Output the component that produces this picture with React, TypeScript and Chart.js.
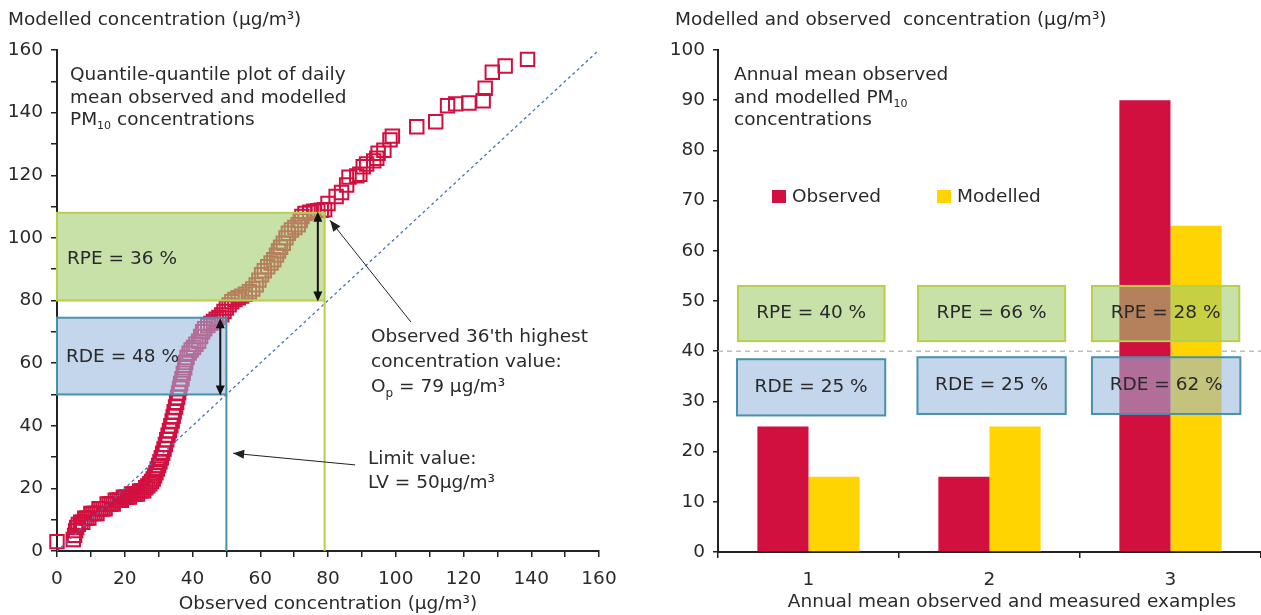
import React, { useEffect, useRef } from 'react';
import { Chart, registerables } from 'chart.js';

Chart.register(...registerables);

const FONT = '"DejaVu Sans", Verdana, sans-serif';
const FS = 18.5;
const TEXT = '#2a2a2a';
const AXIS = '#222222';
const RED = 'rgb(210,16,64)';
const YELLOW = 'rgb(255,212,0)';

// ---- Left chart: quantile-quantile data (observed vs modelled, µg/m³) ----
const observedQuantiles = [
  0, 4.8, 5.2, 5.5, 5.8, 6.3, 7, 7.6, 8.2, 8.8,
  9.4, 10, 10.6, 11.2, 11.8, 12.4, 13, 13.6, 14.2, 14.8,
  15.4, 16, 16.6, 17.2, 17.8, 18.4, 19, 19.6, 20.2, 20.8,
  21.4, 22, 22.6, 23.2, 23.8, 24.4, 25, 25.6, 26.2, 26.8,
  27.4, 27.9, 28.4, 28.8, 29.2, 29.6, 30, 30.4, 30.8, 31.2,
  31.6, 32, 32.4, 32.8, 33.2, 33.6, 34, 34.3, 34.6, 35,
  35.3, 35.6, 35.9, 36.2, 36.5, 36.9, 37.3, 37.7, 38, 38.4,
  39, 39.6, 40.3, 41, 41.8, 42.4, 43, 43.6, 44.5, 45.4,
  46.2, 47, 47.8, 48.6, 49.3, 50, 50.8, 51.6, 52.5, 53.5,
  54.5, 55.6, 56.8, 57.8, 58.8, 59.6, 60.4, 61.2, 62.2, 63.2,
  64, 64.8, 65.4, 66, 66.8, 67.6, 68.3, 69.2, 70.2, 71.2,
  71.8, 72.3, 73.2, 74.6, 75.8, 77, 78, 79, 80, 82.4,
  84, 85.5, 86.2, 88.5, 89.4, 90.4, 91.4, 93.5, 94.4, 94.8,
  96.5, 98.3, 99, 106.2, 111.8, 115.3, 117.7, 121.6, 125.8, 126.4,
  128.5, 132.3, 138.9,
];
const modelledQuantiles = [
  3, 3.7, 5, 6.5, 7.5, 8.5, 9.2, 9.2, 10.5, 10.5,
  10.5, 12, 12, 12, 12, 13.5, 13.5, 13.5, 13.5, 15,
  15, 15, 15, 16.2, 16.2, 16.2, 16.2, 17.2, 17.2, 17.2,
  17.2, 18.2, 18.2, 18.2, 18.2, 19.2, 19.2, 19.2, 20.2, 20.8,
  21.5, 22.2, 23, 24, 25, 26.2, 27.3, 28.5, 29.8, 31.2,
  32.6, 34, 35.5, 37, 38.5, 40, 41.5, 43, 44.5, 46,
  47.5, 49, 50.5, 52, 53.5, 55, 56.8, 58.5, 60.2, 61.8,
  63.2, 64.2, 65, 66, 67, 68.5, 70, 71, 72, 72.7,
  73.3, 74, 74.6, 75.4, 76.5, 77.6, 78.6, 79.6, 80.3, 80.9,
  81.4, 82, 82.8, 83.7, 85, 86.5, 88.2, 89.5, 90.8, 92,
  93, 94.5, 95.8, 97, 98.3, 100, 101.5, 102.5, 103.3, 104.2,
  105.5, 106.8, 107.8, 108.2, 108.5, 108.7, 108.8, 109, 111, 113.2,
  114.5, 116.9, 119.4, 119.8, 120.3, 122.7, 123.6, 124.6, 125.4, 127,
  128, 131.3, 132.5, 135.5, 137.1, 142.2, 142.8, 143.1, 143.8, 147.8,
  152.9, 154.9, 157,
];
const qqAxisTicks = [0, 20, 40, 60, 80, 100, 120, 140, 160];
const limitValue = 50; // LV
const modelledAtLimit = 74.5;
const observedP = 79; // O_p
const modelledAtPLow = 80;
const modelledAtP = 108;

// ---- Right chart: annual means ----
const exampleLabels = ['1', '2', '3'];
const observedMeans = [25, 15, 90];
const modelledMeans = [15, 25, 65];
const rpeLabels = ['RPE = 40 %', 'RPE = 66 %', 'RPE = 28 %'];
const rdeLabels = ['RDE = 25 %', 'RDE = 25 %', 'RDE = 62 %'];
const annualLimit = 40;

type Seg = { t: string; size?: number; dy?: number };

function drawSegs(ctx: CanvasRenderingContext2D, x: number, y: number, segs: Seg[], align: 'left' | 'center' = 'left') {
  ctx.save();
  ctx.fillStyle = TEXT;
  ctx.textBaseline = 'middle';
  ctx.textAlign = 'left';
  let total = 0;
  for (const s of segs) {
    ctx.font = `${s.size ?? FS}px ${FONT}`;
    total += ctx.measureText(s.t).width;
  }
  let cx = align === 'center' ? x - total / 2 : x;
  for (const s of segs) {
    ctx.font = `${s.size ?? FS}px ${FONT}`;
    ctx.fillText(s.t, cx, y + (s.dy ?? 0));
    cx += ctx.measureText(s.t).width;
  }
  ctx.restore();
}

function arrowHead(ctx: CanvasRenderingContext2D, fx: number, fy: number, tx: number, ty: number, len = 9, half = 4) {
  const a = Math.atan2(ty - fy, tx - fx);
  ctx.beginPath();
  ctx.moveTo(tx, ty);
  ctx.lineTo(tx - len * Math.cos(a) + half * Math.sin(a), ty - len * Math.sin(a) - half * Math.cos(a));
  ctx.lineTo(tx - len * Math.cos(a) - half * Math.sin(a), ty - len * Math.sin(a) + half * Math.cos(a));
  ctx.closePath();
  ctx.fill();
}

const GREEN_FILL = 'rgba(162,205,112,0.6)';
const GREEN_LINE = 'rgb(182,208,76)';
const BLUE_FILL = 'rgba(152,183,222,0.57)';
const BLUE_LINE = 'rgb(72,145,170)';

const qqPlugin = {
  id: 'qqAnnotations',
  afterDatasetsDraw(chart: any) {
    const { ctx } = chart;
    const xs = chart.scales.x;
    const ys = chart.scales.y;
    const px = (v: number) => xs.getPixelForValue(v);
    const py = (v: number) => ys.getPixelForValue(v);
    ctx.save();
    // 1:1 line
    ctx.strokeStyle = 'rgb(70,112,192)';
    ctx.lineWidth = 1.3;
    ctx.setLineDash([3, 3]);
    ctx.beginPath();
    ctx.moveTo(px(0), py(0));
    ctx.lineTo(px(160), py(160));
    ctx.stroke();
    ctx.setLineDash([]);

    // RPE box
    ctx.fillStyle = GREEN_FILL;
    ctx.strokeStyle = GREEN_LINE;
    ctx.lineWidth = 2;
    ctx.fillRect(px(0), py(modelledAtP), px(observedP) - px(0), py(modelledAtPLow) - py(modelledAtP));
    ctx.strokeRect(px(0), py(modelledAtP), px(observedP) - px(0), py(modelledAtPLow) - py(modelledAtP));
    ctx.beginPath();
    ctx.moveTo(px(observedP), py(modelledAtPLow));
    ctx.lineTo(px(observedP), py(0));
    ctx.stroke();

    // RDE box
    ctx.fillStyle = BLUE_FILL;
    ctx.strokeStyle = BLUE_LINE;
    ctx.fillRect(px(0), py(modelledAtLimit), px(limitValue) - px(0), py(limitValue) - py(modelledAtLimit));
    ctx.strokeRect(px(0), py(modelledAtLimit), px(limitValue) - px(0), py(limitValue) - py(modelledAtLimit));
    ctx.beginPath();
    ctx.moveTo(px(limitValue), py(limitValue));
    ctx.lineTo(px(limitValue), py(0));
    ctx.stroke();

    // double arrows
    ctx.strokeStyle = '#111';
    ctx.fillStyle = '#111';
    ctx.lineWidth = 2;
    const dbl = (xv: number, y0: number, y1: number) => {
      const X = px(xv);
      const A = py(y0) - 1;
      const B = py(y1) + 1;
      ctx.beginPath();
      ctx.moveTo(X, A + 6);
      ctx.lineTo(X, B - 6);
      ctx.stroke();
      arrowHead(ctx, X, B, X, A, 10, 4.5);
      arrowHead(ctx, X, A, X, B, 10, 4.5);
    };
    dbl(77, modelledAtP, modelledAtPLow);
    dbl(48.2, modelledAtLimit - 0.5, limitValue);

    // pointer lines
    ctx.lineWidth = 1;
    ctx.strokeStyle = '#222';
    ctx.fillStyle = '#222';
    const pointer = (x0: number, y0: number, x1: number, y1: number) => {
      ctx.beginPath();
      ctx.moveTo(px(x0), py(y0));
      ctx.lineTo(px(x1), py(y1));
      ctx.stroke();
      arrowHead(ctx, px(x0), py(y0), px(x1), py(y1), 11, 4.5);
    };
    pointer(104.5, 73.1, 80.6, 105.6);
    pointer(88, 27.5, 52, 31.2);
    ctx.restore();

    drawSegs(ctx, 67, 259, [{ t: 'RPE = 36 %' }]);
    drawSegs(ctx, 66, 357, [{ t: 'RDE = 48 %' }]);
    drawSegs(ctx, 371, 337, [{ t: "Observed 36'th highest" }]);
    drawSegs(ctx, 371, 362, [{ t: 'concentration value:' }]);
    drawSegs(ctx, 371, 387, [{ t: 'O' }, { t: 'p', size: 12, dy: 7 }, { t: ' = 79 µg/m³' }]);
    drawSegs(ctx, 368, 459, [{ t: 'Limit value:' }]);
    drawSegs(ctx, 368, 483, [{ t: 'LV = 50µg/m³' }]);
  },
  afterDraw(chart: any) {
    const { ctx } = chart;
    drawSegs(ctx, 8, 20, [{ t: 'Modelled concentration (µg/m³)' }]);
    drawSegs(ctx, 70, 75, [{ t: 'Quantile-quantile plot of daily' }]);
    drawSegs(ctx, 70, 98, [{ t: 'mean observed and modelled' }]);
    drawSegs(ctx, 70, 120, [{ t: 'PM' }, { t: '10', size: 11, dy: 6 }, { t: ' concentrations' }]);
  },
};

const barPlugin = {
  id: 'barAnnotations',
  beforeDatasetsDraw(chart: any) {
    const { ctx, chartArea } = chart;
    const y = chart.scales.y.getPixelForValue(annualLimit);
    ctx.save();
    ctx.strokeStyle = 'rgb(190,190,190)';
    ctx.lineWidth = 1.5;
    ctx.setLineDash([5, 4]);
    ctx.beginPath();
    ctx.moveTo(chartArea.left, y);
    ctx.lineTo(chartArea.right, y);
    ctx.stroke();
    ctx.restore();
  },
  afterDatasetsDraw(chart: any) {
    const { ctx } = chart;
    const xs = chart.scales.x;
    const ys = chart.scales.y;
    const px = (v: number) => xs.getPixelForValue(v);
    const py = (v: number) => ys.getPixelForValue(v);
    const rpeSpan = [[-0.39, 0.42], [0.605, 1.418], [1.566, 2.38]];
    const rdeSpan = [[-0.395, 0.424], [0.602, 1.421], [1.566, 2.386]];
    const rdeY = [[27.2, 38.4], [27.5, 38.8], [27.5, 38.8]];
    ctx.save();
    ctx.lineWidth = 2;
    rpeSpan.forEach(([a, b], i) => {
      const x0 = px(a), x1 = px(b), y0 = py(53), y1 = py(42);
      ctx.fillStyle = GREEN_FILL;
      ctx.strokeStyle = GREEN_LINE;
      ctx.fillRect(x0, y0, x1 - x0, y1 - y0);
      ctx.strokeRect(x0, y0, x1 - x0, y1 - y0);
      drawSegs(ctx, (x0 + x1) / 2, (y0 + y1) / 2, [{ t: rpeLabels[i] }], 'center');
    });
    rdeSpan.forEach(([a, b], i) => {
      const x0 = px(a), x1 = px(b), y0 = py(rdeY[i][1]), y1 = py(rdeY[i][0]);
      ctx.fillStyle = BLUE_FILL;
      ctx.strokeStyle = BLUE_LINE;
      ctx.fillRect(x0, y0, x1 - x0, y1 - y0);
      ctx.strokeRect(x0, y0, x1 - x0, y1 - y0);
      drawSegs(ctx, (x0 + x1) / 2, (y0 + y1) / 2, [{ t: rdeLabels[i] }], 'center');
    });
    // legend
    ctx.fillStyle = RED;
    ctx.fillRect(112, 190, 14, 13);
    ctx.fillStyle = YELLOW;
    ctx.fillRect(277, 190, 14, 13);
    ctx.restore();
    drawSegs(ctx, 132, 197, [{ t: 'Observed' }]);
    drawSegs(ctx, 297, 197, [{ t: 'Modelled' }]);
  },
  afterDraw(chart: any) {
    const { ctx } = chart;
    drawSegs(ctx, 15, 20, [{ t: 'Modelled and observed  concentration (µg/m³)' }]);
    drawSegs(ctx, 74, 75, [{ t: 'Annual mean observed' }]);
    drawSegs(ctx, 74, 98, [{ t: 'and modelled PM' }, { t: '10', size: 11, dy: 6 }]);
    drawSegs(ctx, 74, 120, [{ t: 'concentrations' }]);
    drawSegs(ctx, 352, 602, [{ t: 'Annual mean observed and measured examples' }], 'center');
  },
};

const gridCommon = (tickLength: number) => ({
  drawOnChartArea: false,
  drawTicks: true,
  tickLength,
  color: AXIS,
  lineWidth: 1.5,
});
const borderCommon = { display: true, color: AXIS, width: 2 };

export default function App() {
  const leftRef = useRef<HTMLCanvasElement>(null);
  const rightRef = useRef<HTMLCanvasElement>(null);

  useEffect(() => {
    Chart.defaults.font.family = FONT;
    Chart.defaults.font.size = FS;
    Chart.defaults.color = TEXT;

    const left = new Chart(leftRef.current!, {
      type: 'scatter',
      data: {
        datasets: [
          {
            label: 'Q-Q',
            data: observedQuantiles.map((o, i) => ({ x: o, y: modelledQuantiles[i] })),
            pointStyle: 'rect',
            pointRadius: 9.5,
            pointBorderWidth: 2,
            borderColor: RED,
            pointBorderColor: RED,
            backgroundColor: 'rgba(0,0,0,0)',
            pointBackgroundColor: 'rgba(0,0,0,0)',
            clip: false,
          } as any,
        ],
      },
      options: {
        animation: false,
        responsive: false,
        devicePixelRatio: 1,
        layout: { padding: { top: 50, right: 41, left: 0, bottom: 0 } },
        plugins: { legend: { display: false }, tooltip: { enabled: false } },
        events: [],
        scales: {
          x: {
            type: 'linear',
            min: 0,
            max: 160,
            afterFit: (s: any) => { s.height = 64; },
            ticks: {
              stepSize: 10,
              autoSkip: false,
              maxRotation: 0,
              padding: 11,
              color: TEXT,
              font: { size: FS },
              callback: (v: any) => (qqAxisTicks.includes(Number(v)) ? String(v) : ''),
            },
            grid: gridCommon(6),
            border: borderCommon,
            title: {
              display: true,
              text: 'Observed concentration (µg/m³)',
              color: TEXT,
              font: { size: FS },
              padding: { top: 0, bottom: 0 },
            },
          },
          y: {
            type: 'linear',
            min: 0,
            max: 160,
            afterFit: (s: any) => { s.width = 57; },
            ticks: {
              stepSize: 10,
              autoSkip: false,
              padding: 8,
              color: TEXT,
              font: { size: FS },
              callback: (v: any) => (qqAxisTicks.includes(Number(v)) ? String(v) : ''),
            },
            grid: gridCommon(6),
            border: borderCommon,
          },
        },
      } as any,
      plugins: [qqPlugin],
    });

    const right = new Chart(rightRef.current!, {
      type: 'bar',
      data: {
        labels: exampleLabels,
        datasets: [
          { label: 'Observed', data: observedMeans, backgroundColor: RED, borderWidth: 0 },
          { label: 'Modelled', data: modelledMeans, backgroundColor: YELLOW, borderWidth: 0 },
        ],
      },
      options: {
        animation: false,
        responsive: false,
        devicePixelRatio: 1,
        events: [],
        layout: { padding: { top: 50, right: 0, left: 0, bottom: 0 } },
        datasets: { bar: { categoryPercentage: 0.565, barPercentage: 1 } },
        plugins: { legend: { display: false }, tooltip: { enabled: false } },
        scales: {
          x: {
            type: 'category',
            afterFit: (s: any) => { s.height = 63; },
            ticks: { padding: 11, color: TEXT, font: { size: FS }, maxRotation: 0 },
            grid: { ...gridCommon(6), offset: true },
            border: borderCommon,
          },
          y: {
            type: 'linear',
            min: 0,
            max: 100,
            afterFit: (s: any) => { s.width = 58; },
            ticks: { stepSize: 10, padding: 8, color: TEXT, font: { size: FS } },
            grid: gridCommon(5),
            border: borderCommon,
          },
        },
      } as any,
      plugins: [barPlugin],
    });

    return () => {
      left.destroy();
      right.destroy();
    };
  }, []);

  return (
    <div style={{ position: 'absolute', left: 0, top: 0, width: 1261, height: 615, overflow: 'hidden', background: '#fff' }}>
      <canvas ref={leftRef} width={640} height={615} style={{ position: 'absolute', left: 0, top: 0 }} />
      <canvas ref={rightRef} width={601} height={615} style={{ position: 'absolute', left: 660, top: 0 }} />
    </div>
  );
}
